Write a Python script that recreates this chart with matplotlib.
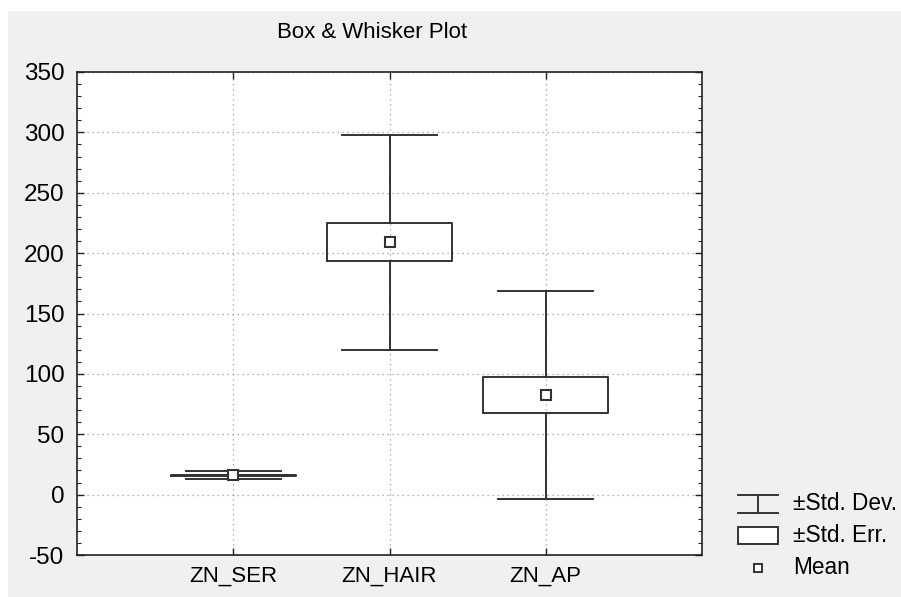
import matplotlib
matplotlib.use("Agg")
import matplotlib.pyplot as plt
from matplotlib.lines import Line2D
from matplotlib.patches import Rectangle
from matplotlib.ticker import MultipleLocator

plt.rcParams['font.family'] = ['Liberation Sans', 'DejaVu Sans']

categories = ["ZN_SER", "ZN_HAIR", "ZN_AP"]
means = [16.1, 209.0, 82.5]
std_devs = [3.2, 89.2, 86.3]
std_errs = [0.3, 15.8, 15.3]
y_ticks = [-50, 0, 50, 100, 150, 200, 250, 300, 350]
legend_labels = ["\u00b1Std. Dev.", "\u00b1Std. Err.", "Mean"]

W, H = 901, 597
fig = plt.figure(figsize=(W / 100, H / 100), dpi=100)
fig.patch.set_facecolor('#f0f0f0')
# white strips at top and left edge
fig.patches.append(Rectangle((0, 1 - 11 / H), 1, 11 / H, transform=fig.transFigure,
                             facecolor='white', edgecolor='none', zorder=-1))
fig.patches.append(Rectangle((0, 0), 8 / W, 1, transform=fig.transFigure,
                             facecolor='white', edgecolor='none', zorder=-1))

ax = fig.add_axes([77 / W, 1 - 555 / H, (702 - 77) / W, (555 - 72) / H])
ax.set_facecolor('white')

lc = '#333333'
stats = []
for name, m, sd, se in zip(categories, means, std_devs, std_errs):
    stats.append(dict(label=name, med=m, mean=m, q1=m - se, q3=m + se,
                      whislo=m - sd, whishi=m + sd, fliers=[]))

pos = list(range(1, len(categories) + 1))
ax.bxp(stats, positions=pos, widths=0.8, capwidths=0.61, showmeans=True,
       showfliers=False,
       boxprops=dict(color=lc, linewidth=1.4),
       whiskerprops=dict(color=lc, linewidth=1.4),
       capprops=dict(color=lc, linewidth=1.4),
       medianprops=dict(linewidth=0),
       meanprops=dict(marker='s', markersize=7, markerfacecolor='white',
                      markeredgecolor=lc, markeredgewidth=1.5))

ax.set_xlim(0, len(categories) + 1)
ax.set_ylim(-50, 350)
ax.set_xticks(pos)
ax.set_xticklabels(categories, fontsize=16)
ax.set_yticks(y_ticks)
ax.set_yticklabels([str(v) for v in y_ticks], fontsize=17.5)
ax.yaxis.set_minor_locator(MultipleLocator(10))
ax.tick_params(axis='both', which='both', direction='in', top=True, right=True,
               color='#222222')
ax.tick_params(axis='both', which='major', length=5, width=1)
ax.tick_params(axis='y', which='major', pad=9)
ax.tick_params(axis='x', which='major', pad=8)
ax.tick_params(axis='y', which='minor', length=3, width=0.8)
ax.grid(True, which='major', linestyle=(0, (1, 3)), color='#999999', linewidth=0.9)
ax.set_axisbelow(True)
for s in ax.spines.values():
    s.set_color('#222222')
    s.set_linewidth(1.2)

fig.text(372 / W, 1 - 33 / H, "Box & Whisker Plot", ha='center', va='center', fontsize=16)

# legend drawn in figure pixel space
lax = fig.add_axes([0, 0, 1, 1], facecolor='none')
lax.set_xlim(0, W)
lax.set_ylim(H, 0)
lax.axis('off')
x0, x1 = 738, 778
xm = (x0 + x1) / 2
lax.add_line(Line2D([x0, x1], [495, 495], color=lc, lw=1.4))
lax.add_line(Line2D([x0, x1], [513, 513], color=lc, lw=1.4))
lax.add_line(Line2D([xm, xm], [495, 513], color=lc, lw=1.4))
lax.add_patch(Rectangle((x0, 527), x1 - x0, 17, facecolor='white', edgecolor=lc, lw=1.4))
lax.plot([xm], [568], marker='s', markersize=6, markerfacecolor='white',
         markeredgecolor=lc, markeredgewidth=1.4)
for yy, lab in zip([503, 536, 568], legend_labels):
    lax.text(793, yy, lab, ha='left', va='center', fontsize=16.3)

fig.savefig("out.png", dpi=100, facecolor=fig.get_facecolor())
